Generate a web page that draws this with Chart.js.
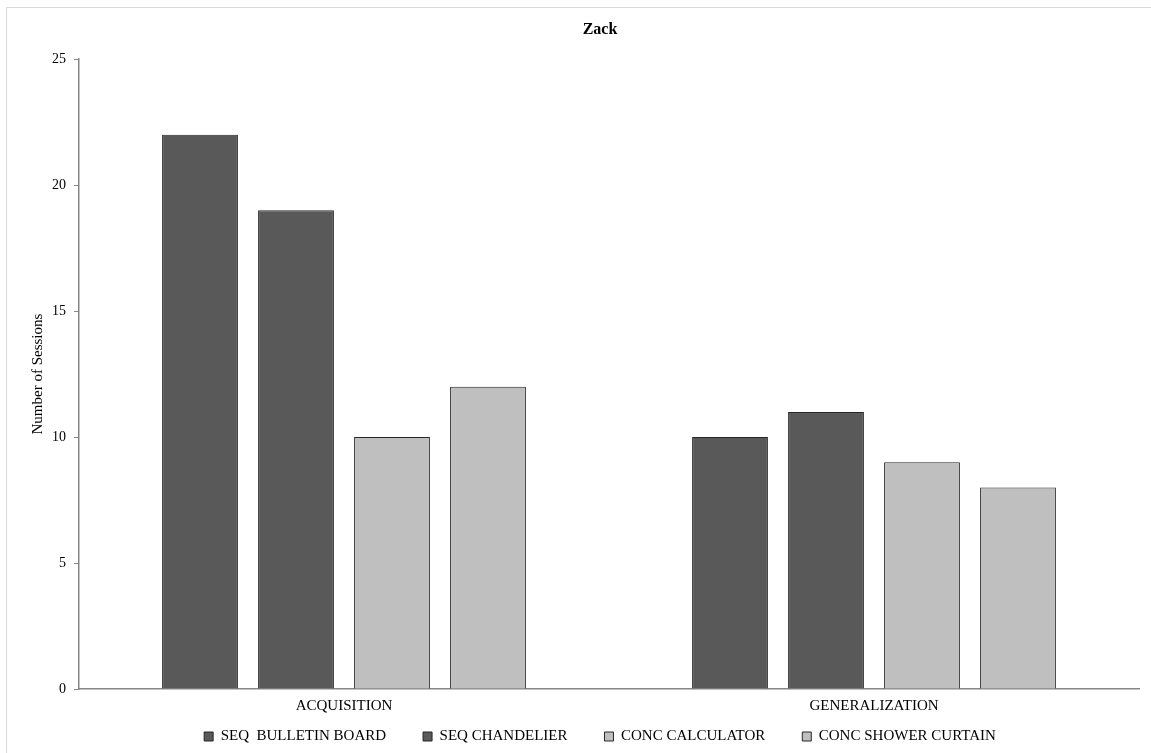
<!DOCTYPE html>
<html>
<head>
<meta charset="utf-8">
<script src="https://cdn.jsdelivr.net/npm/chart.js@4"></script>
<style>
    html, body { margin: 0; padding: 0; background: #fff; overflow: hidden; }
    #frame {
        position: absolute; left: 6px; top: 7px;
        width: 1150px; height: 752px;
        border: 1px solid #d9d9d9; box-sizing: border-box;
    }
    #box { position: absolute; left: 0; top: 0; width: 1144px; height: 745px; }
</style>
</head>
<body>
<div id="frame"><div id="box"><canvas id="chart"></canvas></div></div>
<script>
const categories = ['ACQUISITION', 'GENERALIZATION'];
const seriesNames = ['SEQ  BULLETIN BOARD', 'SEQ CHANDELIER', 'CONC CALCULATOR', 'CONC SHOWER CURTAIN'];
const bulletinBoard = [22, 10];
const chandelier = [19, 11];
const calculator = [10, 9];
const showerCurtain = [12, 8];
const yTicks = [0, 5, 10, 15, 20, 25];

const dark = '#595959', light = '#bfbfbf', edge = '#262626';
const serif = "'Liberation Serif', 'Times New Roman', serif";

Chart.defaults.font.family = serif;
Chart.defaults.color = '#000';

// wide gaps between legend items, but the legend box itself kept short;
// title and legend centred a bit right of the canvas middle, like the original
const legendFix = {
    id: 'legendFix',
    afterInit(chart) {
        const lg = chart.legend;
        if (!lg) return;
        const fit = lg.fit;
        lg.fit = function () {
            fit.call(this);
            this.height = 20;
        };
    },
    afterLayout(chart) {
        const lg = chart.legend;
        if (lg) {
            lg.top -= 41;
            lg.left += 54;
        }
        if (chart.titleBlock) chart.titleBlock.left += 54;
    }
};

const mkSet = (label, data, color) => ({
    label: label, data: data,
    backgroundColor: color, borderColor: edge, borderWidth: 1,
    categoryPercentage: 0.7245, barPercentage: 0.79
});

new Chart(document.getElementById('chart'), {
    type: 'bar',
    data: {
        labels: categories,
        datasets: [
            mkSet(seriesNames[0], bulletinBoard, dark),
            mkSet(seriesNames[1], chandelier, dark),
            mkSet(seriesNames[2], calculator, light),
            mkSet(seriesNames[3], showerCurtain, light)
        ]
    },
    plugins: [legendFix],
    options: {
        responsive: true,
        maintainAspectRatio: false,
        animation: false,
        layout: { padding: { left: 0, right: 12, top: 0, bottom: 0 } },
        plugins: {
            title: {
                display: true, text: 'Zack', color: '#000',
                font: { size: 16, weight: 'bold' },
                padding: { top: 12, bottom: 20 }
            },
            legend: {
                position: 'bottom',
                labels: {
                    boxWidth: 9, boxHeight: 9, padding: 37,
                    color: '#000', font: { size: 15 }
                }
            },
            tooltip: { enabled: false }
        },
        scales: {
            x: {
                grid: { display: false, drawTicks: false },
                border: { display: true, color: '#868686', width: 1.5 },
                ticks: { padding: 8, color: '#000', font: { size: 15 } },
                afterFit: (s) => { s.height = 44; }
            },
            y: {
                min: 0, max: 25,
                afterBuildTicks: (s) => { s.ticks = yTicks.map(v => ({ value: v })); },
                grid: { drawOnChartArea: false, tickLength: 5, color: '#868686' },
                border: { color: '#868686', width: 1.5 },
                ticks: { padding: 8, color: '#000', font: { size: 14 } },
                title: {
                    display: true, text: 'Number of Sessions', color: '#000',
                    font: { size: 15 }, padding: { top: 22, bottom: 0 }
                },
                afterFit: (s) => { s.width = 72; }
            }
        }
    }
});
</script>
</body>
</html>
